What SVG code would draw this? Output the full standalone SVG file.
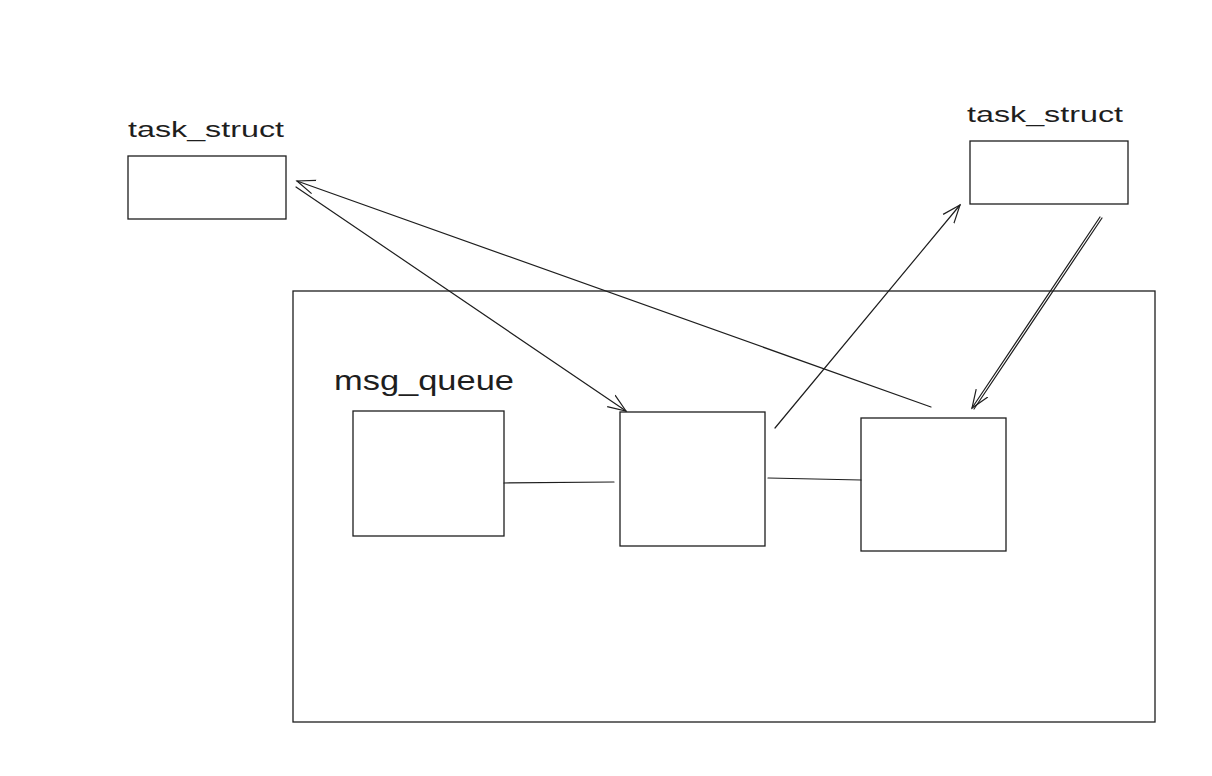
<svg xmlns="http://www.w3.org/2000/svg" width="1212" height="776" viewBox="0 0 1212 776">
<defs>
<style>
.box{fill:#fff;stroke:#1e1e1e;stroke-width:1.3}
.ln{fill:none;stroke:#1e1e1e;stroke-width:1.2;stroke-linecap:round}
.lbl{font-family:"Liberation Sans","DejaVu Sans",sans-serif;fill:#1e1e1e}
</style>
<marker id="ah" viewBox="0 0 20 20" refX="18" refY="10" markerWidth="20" markerHeight="20" markerUnits="userSpaceOnUse" orient="auto">
<path d="M0,3 L18,10 L0,17" fill="none" stroke="#1e1e1e" stroke-width="1.2"/>
</marker>
</defs>
<rect width="1212" height="776" fill="#fff"/>
<g id="container"><rect class="box" x="293" y="291" width="862" height="431"/></g>
<g id="task-left">
<text class="lbl" x="128" y="137" font-size="22" textLength="156" lengthAdjust="spacingAndGlyphs">task_struct</text>
<rect class="box" x="128" y="156" width="158" height="63"/>
</g>
<g id="task-right">
<text class="lbl" x="967" y="122" font-size="22" textLength="156" lengthAdjust="spacingAndGlyphs">task_struct</text>
<rect class="box" x="970" y="141" width="158" height="63"/>
</g>
<g id="msgq">
<text class="lbl" x="334" y="390" font-size="28" textLength="180" lengthAdjust="spacingAndGlyphs">msg_queue</text>
<rect class="box" x="353" y="411" width="151" height="125"/>
</g>
<g id="nodeB"><rect class="box" x="620" y="412" width="145" height="134"/></g>
<g id="nodeC"><rect class="box" x="861" y="418" width="145" height="133"/></g>
<g id="connectors">
<path class="ln" d="M504,483 L614,482"/>
<path class="ln" d="M768,478 L861,480"/>
<path class="ln" d="M296,187 L626,411" marker-end="url(#ah)"/>
<path class="ln" d="M931,407 L297,181" marker-end="url(#ah)"/>
<path class="ln" d="M775,428 L960,205" marker-end="url(#ah)"/>
<path class="ln" d="M1100,217 L972,408" marker-end="url(#ah)"/>
<path class="ln" d="M1102,218 L974,409"/>
</g>
</svg>
